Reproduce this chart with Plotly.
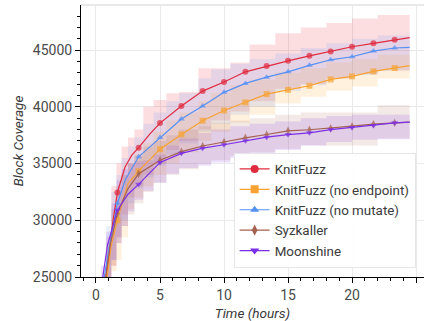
import plotly.graph_objects as go

# ---------------- data ----------------
MARK_TIMES = [1.67, 3.33, 5, 6.67, 8.33, 10, 11.67, 13.33, 15, 16.67, 18.33, 20, 21.67, 23.33]

# mean coverage lines
red_t = [0.6, 1.0, 1.3, 1.67, 2.27, 2.8, 3.33, 4.2, 5, 6.67, 8.33, 10, 11.67, 13.33, 15, 16.67, 18.33, 20, 21.67, 23.33, 24.5]
red_y = [23800, 26800, 29700, 32450, 34700, 35740, 36400, 37600, 38570, 40070, 41390, 42185, 43090, 43600, 44060, 44500, 44890, 45300, 45600, 45920, 46100]

orange_t = [0.75, 1.2, 1.67, 2.5, 3.33, 5, 6.67, 8.33, 10, 11.67, 13.33, 15, 16.67, 18.33, 20, 21.67, 23.33, 24.5]
orange_y = [24000, 27800, 30000, 33240, 34330, 36270, 37570, 38780, 39680, 40390, 41125, 41500, 41860, 42420, 42690, 43130, 43420, 43630]

blue_t = [0.5, 1.0, 1.67, 2.3, 3.33, 5, 6.67, 8.33, 10, 11.67, 13.33, 15, 16.67, 18.33, 20, 21.67, 23.33, 24.5]
blue_y = [24000, 27400, 31500, 33600, 35600, 37300, 38930, 40080, 41280, 42070, 42620, 43090, 43660, 44150, 44420, 44920, 45190, 45250]

brown_t = [0.65, 1.1, 1.67, 2.5, 3.33, 5, 6.67, 8.33, 10, 11.67, 13.33, 15, 16.67, 18.33, 20, 21.67, 23.33, 24.5]
brown_y = [24000, 27800, 30600, 32800, 34100, 35300, 36050, 36550, 36900, 37270, 37560, 37890, 37980, 38120, 38300, 38480, 38590, 38650]

purple_t = [0.4, 0.9, 1.67, 2.5, 3.33, 5, 6.67, 8.33, 10, 11.67, 13.33, 15, 16.67, 18.33, 20, 21.67, 23.33, 24.5]
purple_y = [24000, 27800, 30890, 32300, 33170, 35100, 35900, 36360, 36660, 37020, 37330, 37560, 37710, 38000, 38190, 38360, 38590, 38650]

# shaded ranges (step-wise)
band_t = [0.4, 0.8, 1.2, 1.6, 2.0, 2.5, 3.0, 3.7, 4.5, 5.5, 6.5, 8.0, 9.0, 10.5, 12, 14, 16, 18, 20, 22, 24.5]

red_lo = [22000, 23000, 26000, 28500, 30500, 32000, 33000, 34000, 35000, 36200, 37000, 38000, 38800, 39600, 40500, 41600, 42000, 42500, 42900, 43200, 43500]
red_hi = [24000, 28500, 33000, 35000, 36500, 37300, 38000, 40000, 40600, 41200, 41300, 43400, 43400, 43900, 45500, 46500, 47000, 47400, 47800, 48100, 48400]

orange_lo = [22000, 22500, 25500, 26500, 28500, 31000, 32000, 33000, 34000, 35000, 36000, 37000, 37800, 38600, 39300, 40300, 40900, 41400, 41800, 42500, 43000]
orange_hi = [24000, 27000, 30500, 32500, 34000, 35000, 35800, 36800, 37800, 38800, 39500, 40500, 41200, 41900, 42400, 43000, 43400, 43900, 44200, 44600, 44900]

blue_lo = [22000, 23500, 26500, 28500, 30000, 31500, 32800, 33800, 34800, 35800, 36800, 37800, 38500, 39300, 40000, 41400, 41900, 42500, 42800, 43200, 43500]
blue_hi = [25000, 29500, 32500, 34000, 35500, 36500, 37300, 38500, 39500, 40500, 41200, 42500, 43300, 43800, 44200, 44700, 45200, 45600, 46000, 46300, 46600]

brown_lo = [22000, 23000, 26000, 28000, 29500, 30500, 31500, 32500, 33300, 34000, 34500, 35000, 35300, 35700, 36000, 36300, 36600, 36600, 36600, 37200, 37200]
brown_hi = [25000, 28000, 31000, 33000, 34000, 35000, 35700, 36500, 37000, 37500, 38000, 38300, 38600, 38800, 39000, 39300, 39500, 39500, 39500, 40150, 40150]

purple_lo = [22000, 24000, 26500, 28000, 29500, 30800, 31800, 32600, 33300, 34100, 34600, 34800, 35100, 35500, 35800, 36200, 36600, 36900, 37100, 37150, 37150]
purple_hi = [26000, 29000, 31500, 33500, 34500, 35000, 35200, 35300, 35800, 36600, 37200, 37700, 38000, 38300, 38500, 38700, 39000, 39200, 39300, 39300, 39300]

names = ["KnitFuzz", "KnitFuzz (no endpoint)", "KnitFuzz (no mutate)", "Syzkaller", "Moonshine"]

x_ticks = [0, 5, 10, 15, 20, 25]
y_ticks = [25000, 30000, 35000, 40000, 45000]

# ---------------- styles ----------------
series = [
    dict(name=names[0], t=red_t, y=red_y, lo=red_lo, hi=red_hi, color="#e02a3e",
         fill="rgba(240,60,80,0.17)", symbol="circle", msize=6),
    dict(name=names[1], t=orange_t, y=orange_y, lo=orange_lo, hi=orange_hi, color="#f7a233",
         fill="rgba(255,170,60,0.17)", symbol="square", msize=6),
    dict(name=names[2], t=blue_t, y=blue_y, lo=blue_lo, hi=blue_hi, color="#5590f3",
         fill="rgba(90,140,245,0.14)", symbol="triangle-up", msize=6),
    dict(name=names[3], t=brown_t, y=brown_y, lo=brown_lo, hi=brown_hi, color="#a4614f",
         fill="rgba(170,100,85,0.14)", symbol="diamond-tall", msize=6),
    dict(name=names[4], t=purple_t, y=purple_y, lo=purple_lo, hi=purple_hi, color="#7b2fe6",
         fill="rgba(125,50,230,0.15)", symbol="triangle-down", msize=6),
]

fig = go.Figure()

# bands
for s in series:
    fig.add_trace(go.Scatter(x=band_t, y=s["lo"], mode="lines", line=dict(width=0, shape="hv"),
                             showlegend=False, hoverinfo="skip"))
    fig.add_trace(go.Scatter(x=band_t, y=s["hi"], mode="lines", line=dict(width=0, shape="hv"),
                             fill="tonexty", fillcolor=s["fill"], showlegend=False, hoverinfo="skip"))

# lines with markers
for s in series:
    sizes = [s["msize"] if any(abs(t - m) < 1e-6 for m in MARK_TIMES) else 0 for t in s["t"]]
    fig.add_trace(go.Scatter(x=s["t"], y=s["y"], mode="lines+markers",
                             line=dict(color=s["color"], width=1.2),
                             marker=dict(symbol=s["symbol"], size=sizes, color=s["color"], line=dict(width=0)),
                             showlegend=False, hoverinfo="skip"))

# legend entries
for s in series:
    fig.add_trace(go.Scatter(x=[None], y=[None], mode="lines+markers", name=s["name"],
                             line=dict(color=s["color"], width=1.2),
                             marker=dict(symbol=s["symbol"], size=s["msize"] + 2, color=s["color"])))

axis_common = dict(
    showline=True, linecolor="black", linewidth=1,
    ticks="outside", tickcolor="black", ticklen=5, tickwidth=1,
    showgrid=True, gridcolor="#e9e9e9", gridwidth=1,
    zeroline=False,
    tickfont=dict(family="Roboto", size=14, color="#4a4a4a"),
)

fig.update_xaxes(
    range=[-1.17, 25.62], tickvals=x_ticks,
    minor=dict(dtick=1, ticklen=3, tickcolor="black", ticks="outside", showgrid=False),
    title=dict(text="Time (hours)", font=dict(family="Roboto", size=13.6, color="#3a3a3a", style="italic"),
               standoff=6),
    **axis_common,
)
fig.update_yaxes(
    range=[25000, 48980], tickvals=y_ticks, tickformat="d",
    minor=dict(dtick=1000, ticklen=3, tickcolor="black", ticks="outside", showgrid=False),
    title=dict(text="Block Coverage", font=dict(family="Roboto", size=13.6, color="#3a3a3a", style="italic"),
               standoff=6),
    **axis_common,
)

fig.add_shape(type="line", xref="paper", yref="paper", x0=0, x1=1, y0=1, y1=1,
              line=dict(color="#e9e9e9", width=2))

fig.update_layout(
    width=424, height=321,
    margin=dict(l=81, r=0, t=5, b=44),
    paper_bgcolor="white", plot_bgcolor="white",
    font=dict(family="Roboto", color="#3a3a3a"),
    legend=dict(x=0.445, y=0.457, xanchor="left", yanchor="top", traceorder="normal",
                bgcolor="rgba(255,255,255,0.92)", bordercolor="#e6e6e6", borderwidth=1,
                font=dict(family="Roboto", size=13.4, color="#3a3a3a"),
                itemwidth=30, tracegroupgap=0),
)

fig.write_html("out.html")
